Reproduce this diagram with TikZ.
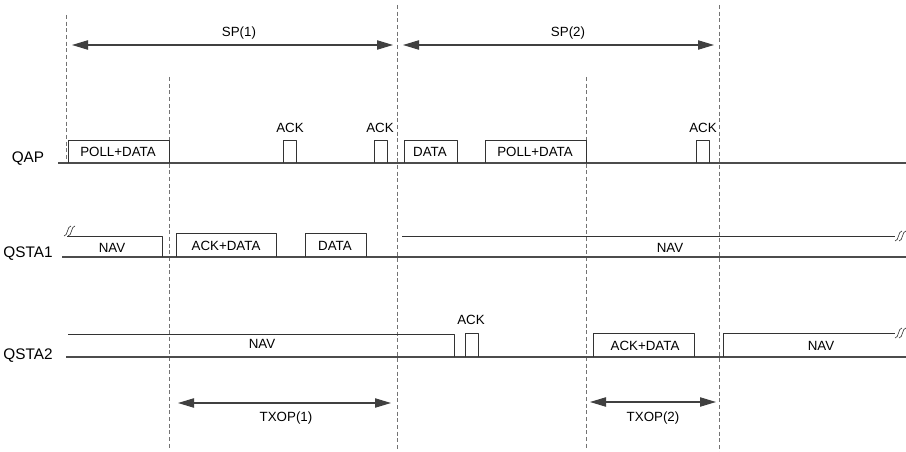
\documentclass[tikz,border=0pt]{standalone}
\usepackage{fontspec}
\setmainfont{Liberation Sans}
\usetikzlibrary{arrows.meta}
\tikzset{
  span/.style={{Triangle[length=12pt,width=7pt]}-{Triangle[length=12pt,width=7pt]}, line width=0.8pt, draw=black!75},
  guide/.style={densely dashed, draw=black!55, line width=0.6pt},
  baseline/.style={draw=black!70, line width=0.9pt},
  frame/.style={draw=black!80, line width=0.6pt},
  rowlabel/.style={font=\fontsize{11.5}{13}\selectfont},
  brkmark/.pic={
    \draw[black!75, line width=0.5pt] (-5,5) .. controls (-1,5) and (-2,-5) .. (2,-5);
    \draw[black!75, line width=0.5pt] (-1,5) .. controls (3,5) and (2,-5) .. (6,-5);
  }
}
\begin{document}
\begin{tikzpicture}[x=0.75pt, y=-0.75pt, font=\fontsize{10}{12}\selectfont, line join=round]
\useasboundingbox (0,0) rectangle (906,452);
% dashed time marks
\coordinate (t0a) at (66,15);  \coordinate (t0b) at (66,163);
\coordinate (t1a) at (169,77); \coordinate (t1b) at (169,448);
\coordinate (t2a) at (397,5);  \coordinate (t2b) at (397,450);
\coordinate (t3a) at (586,77); \coordinate (t3b) at (586,448);
\coordinate (t4a) at (719,5);  \coordinate (t4b) at (719,452);
\foreach \i in {0,...,4} \draw[guide] (t\i a) -- (t\i b);
% service periods
\coordinate (sp1a) at (72,45);  \coordinate (sp1b) at (393,45);
\coordinate (sp2a) at (403,45); \coordinate (sp2b) at (714,45);
\draw[span] (sp1a) -- (sp1b);
\draw[span] (sp2a) -- (sp2b);
\node (sp1) at (239,33) {SP(1)};
\node (sp2) at (568,33) {SP(2)};
% QAP
\node[rowlabel] (qap) at (28,159) {QAP};
\coordinate (qapa) at (58,163); \coordinate (qapb) at (906,163);
\draw[baseline] (qapa) -- (qapb);
\draw[frame] (68,163) |- (169,140) -- (169,163);
\node (qpd1) at (118,152) {POLL+DATA};
\draw[frame] (283,163) |- (296,140) -- (296,163);
\node (qack1) at (290,128) {ACK};
\draw[frame] (374,163) |- (387,140) -- (387,163);
\node (qack2) at (380,128) {ACK};
\draw[frame] (404,163) |- (457,140) -- (457,163);
\node (qdata) at (430,152) {DATA};
\draw[frame] (485,163) |- (586,140) -- (586,163);
\node (qpd2) at (535,152) {POLL+DATA};
\draw[frame] (696,163) |- (709,140) -- (709,163);
\node (qack3) at (703,128) {ACK};
% QSTA1
\node[rowlabel] (sta1) at (28,254) {QSTA1};
\coordinate (sta1a) at (62,257); \coordinate (sta1b) at (906,257);
\draw[baseline] (sta1a) -- (sta1b);
\draw[frame] (67,236) -| (162,257);
\pic at (69,231) {brkmark};
\node (s1nav1) at (112,248) {NAV};
\draw[frame] (176,257) |- (276,233) -- (276,257);
\node (s1ad) at (226,246) {ACK+DATA};
\draw[frame] (305,257) |- (366,233) -- (366,257);
\node (s1data) at (335,246) {DATA};
\draw[frame] (402,236) -- (895,236);
\pic at (900,236) {brkmark};
\node (s1nav2) at (670,248) {NAV};
% QSTA2
\node[rowlabel] (sta2) at (28,356) {QSTA2};
\coordinate (sta2a) at (66,357); \coordinate (sta2b) at (906,357);
\draw[baseline] (sta2a) -- (sta2b);
\draw[frame] (68,334) -| (454,357);
\node (s2nav1) at (262,344) {NAV};
\draw[frame] (465,357) |- (478,333) -- (478,357);
\node (s2ack) at (471,320) {ACK};
\draw[frame] (593,357) |- (694,333) -- (694,357);
\node (s2ad) at (645,346) {ACK+DATA};
\draw[frame] (723,357) |- (895,333);
\pic at (900,333) {brkmark};
\node (s2nav2) at (821,346) {NAV};
% transmission opportunities
\coordinate (tx1a) at (178,403); \coordinate (tx1b) at (391,403);
\coordinate (tx2a) at (590,402); \coordinate (tx2b) at (716,402);
\draw[span] (tx1a) -- (tx1b);
\draw[span] (tx2a) -- (tx2b);
\node (txop1) at (286,418) {TXOP(1)};
\node (txop2) at (653,418) {TXOP(2)};
\end{tikzpicture}
\end{document}
